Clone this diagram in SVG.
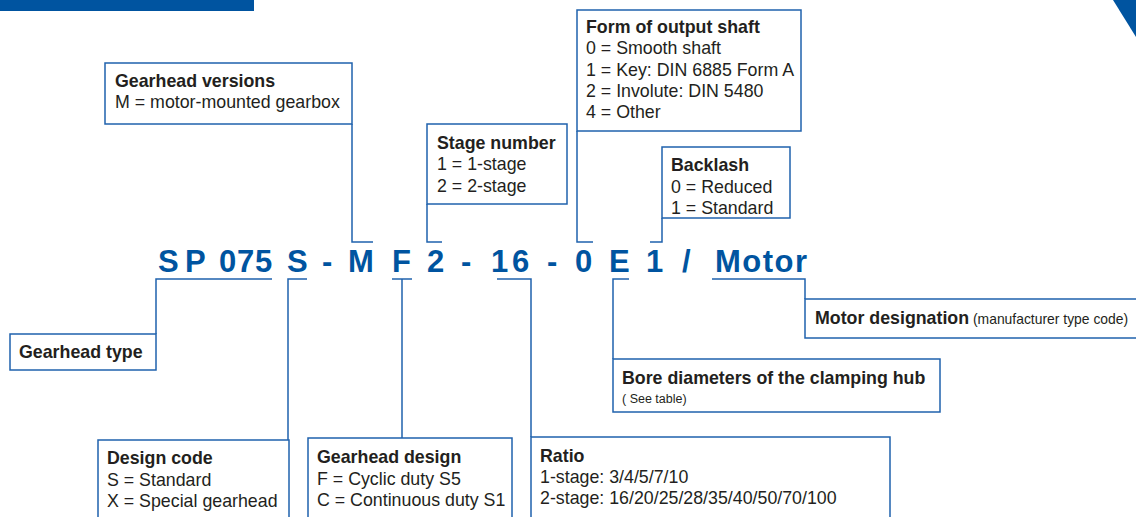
<svg xmlns="http://www.w3.org/2000/svg" width="1136" height="517" viewBox="0 0 1136 517">
<style>
.box{fill:#fff;stroke:#1f62ad;stroke-width:1.5}
.ln{fill:none;stroke:#1f62ad;stroke-width:1.5}
.t{font-family:"Liberation Sans",Arial,sans-serif;font-size:17.8px;fill:#231f20}
.b{font-weight:bold}
.s{font-size:13.9px}
.xs{font-size:12.5px}
.code{font-family:"Liberation Sans",Arial,sans-serif;font-size:31px;font-weight:bold;fill:#0054a0}
</style>
<rect x="0" y="0" width="254" height="11" fill="#0054a0"/>
<polygon points="1113,0 1136,0 1136,37" fill="#0054a0"/>
<g id="code">
<text class="code" y="272"><tspan x="158">S</tspan><tspan x="185">P</tspan><tspan x="219">0</tspan><tspan x="237">7</tspan><tspan x="255">5</tspan><tspan x="287">S</tspan><tspan x="322">-</tspan><tspan x="348">M</tspan><tspan x="392">F</tspan><tspan x="427">2</tspan><tspan x="461">-</tspan><tspan x="491">1</tspan><tspan x="512">6</tspan><tspan x="547">-</tspan><tspan x="575">0</tspan><tspan x="609">E</tspan><tspan x="646">1</tspan><tspan x="682">/</tspan><tspan x="715" letter-spacing="1.5">Motor</tspan></text>
</g>
<g id="connectors">
<polyline class="ln" points="272,279 156,279 156,334"/>
<polyline class="ln" points="307,279 288,279 288,440"/>
<polyline class="ln" points="392,279 412,279"/>
<line class="ln" x1="402" y1="279" x2="402" y2="438"/>
<polyline class="ln" points="497,279 531,279 531,437"/>
<polyline class="ln" points="629,279 613,279 613,359"/>
<polyline class="ln" points="712,279 805,279 805,299"/>
<polyline class="ln" points="373,242 352,242 352,124"/>
<polyline class="ln" points="442,242 427,242 427,204"/>
<polyline class="ln" points="593,242 577,242 577,131"/>
<polyline class="ln" points="650,242 662,242 662,218"/>
</g>
<g id="gearhead-versions">
<rect class="box" x="105" y="63" width="247" height="61"/>
<text class="t b" x="115" y="87">Gearhead versions</text>
<text class="t" x="115" y="108">M = motor-mounted gearbox</text>
</g>
<g id="stage-number">
<rect class="box" x="427" y="124" width="140" height="80"/>
<text class="t b" x="437" y="149">Stage number</text>
<text class="t" x="437" y="170">1 = 1-stage</text>
<text class="t" x="437" y="192">2 = 2-stage</text>
</g>
<g id="output-shaft">
<rect class="box" x="577" y="10" width="224" height="121"/>
<text class="t b" x="586" y="33">Form of output shaft</text>
<text class="t" x="586" y="54">0 = Smooth shaft</text>
<text class="t" x="586" y="76">1 = Key: DIN 6885 Form A</text>
<text class="t" x="586" y="97">2 = Involute: DIN 5480</text>
<text class="t" x="586" y="118">4 = Other</text>
</g>
<g id="backlash">
<rect class="box" x="662" y="147" width="128" height="71"/>
<text class="t b" x="671" y="171">Backlash</text>
<text class="t" x="671" y="193">0 = Reduced</text>
<text class="t" x="671" y="214">1 = Standard</text>
</g>
<g id="motor-designation">
<rect class="box" x="805" y="299" width="340" height="39"/>
<text class="t" x="815" y="324"><tspan class="b">Motor designation</tspan><tspan class="s"> (manufacturer type code)</tspan></text>
</g>
<g id="gearhead-type">
<rect class="box" x="10" y="334" width="146" height="36"/>
<text class="t b" x="19" y="358">Gearhead type</text>
</g>
<g id="bore">
<rect class="box" x="613" y="359" width="327" height="53"/>
<text class="t b" x="622" y="384">Bore diameters of the clamping hub</text>
<text class="t xs" x="622" y="403">( See table)</text>
</g>
<g id="design-code">
<rect class="box" x="98" y="440" width="191" height="90"/>
<text class="t b" x="107" y="464">Design code</text>
<text class="t" x="107" y="486">S = Standard</text>
<text class="t" x="107" y="507">X = Special gearhead</text>
</g>
<g id="gearhead-design">
<rect class="box" x="308" y="438" width="204" height="92"/>
<text class="t b" x="317" y="463">Gearhead design</text>
<text class="t" x="317" y="485">F = Cyclic duty S5</text>
<text class="t" x="317" y="506">C = Continuous duty S1</text>
</g>
<g id="ratio">
<rect class="box" x="531" y="437" width="359" height="93"/>
<text class="t b" x="540" y="462">Ratio</text>
<text class="t" x="540" y="483">1-stage: 3/4/5/7/10</text>
<text class="t" x="540" y="504">2-stage: 16/20/25/28/35/40/50/70/100</text>
</g>
</svg>
